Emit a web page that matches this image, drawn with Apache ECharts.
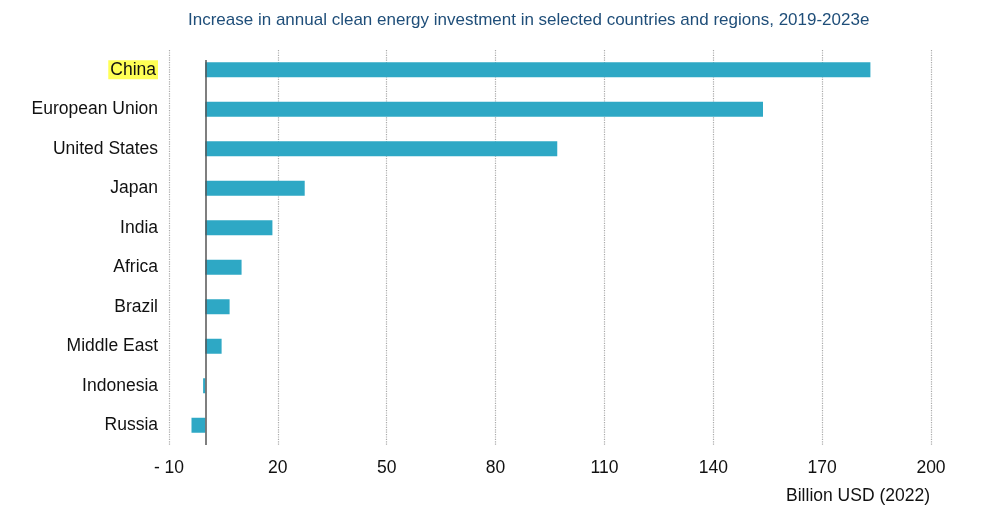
<!DOCTYPE html>
<html>
<head>
<meta charset="utf-8">
<script src="https://cdn.jsdelivr.net/npm/echarts@6/dist/echarts.min.js"></script>
<style>html,body{margin:0;padding:0;background:#fff;}#c{width:999px;height:510px;}</style>
</head>
<body>
<div id="c"></div>
<script>
const categories = ['China','European Union','United States','Japan','India','Africa','Brazil','Middle East','Indonesia','Russia'];
const values = [183.3, 153.7, 97.0, 27.4, 18.5, 10.0, 6.7, 4.5, -0.6, -3.8];
const xTicks = {min: -10, max: 200, interval: 30};
const titleText = 'Increase in annual clean energy investment in selected countries and regions, 2019-2023e';
const unitText = 'Billion USD (2022)';

const chart = echarts.init(document.getElementById('c'));
chart.setOption({
  backgroundColor: '#fff',
  textStyle: {fontFamily: 'Liberation Sans, Arial, sans-serif'},
  title: [
    {text: titleText, left: 183, top: 7,
     textStyle: {color: '#1f4e79', fontSize: 17, fontWeight: 'normal', fontFamily: 'Liberation Sans, Arial, sans-serif'}},
    {text: unitText, right: 64, top: 482,
     textStyle: {color: '#111', fontSize: 17.5, fontWeight: 'normal', fontFamily: 'Liberation Sans, Arial, sans-serif'}}
  ],
  grid: {left: 169, right: 68, top: 50, bottom: 65},
  xAxis: {
    type: 'value', min: xTicks.min, max: xTicks.max, interval: xTicks.interval,
    axisLine: {show: false}, axisTick: {show: false},
    splitLine: {show: true, lineStyle: {type: 'dotted', color: '#aaa', width: 1.2}},
    axisLabel: {color: '#111', fontSize: 17.5, margin: 14,
      formatter: v => v < 0 ? '- ' + Math.abs(v) : String(v)}
  },
  yAxis: {
    type: 'category', data: categories, inverse: true,
    axisLine: {show: false}, axisTick: {show: false}, splitLine: {show: false},
    axisLabel: {color: '#111', fontSize: 17.5, margin: 11,
      formatter: v => v === 'China' ? '{hl|' + v + '}' : v,
      rich: {hl: {backgroundColor: '#ffff55', color: '#111', fontSize: 17.5, padding: [1, 2, 0, 2]}}}
  },
  series: [{
    type: 'bar', data: values, barWidth: 15,
    itemStyle: {color: '#2ea8c5'},
    markLine: {
      silent: true, symbol: 'none', label: {show: false},
      lineStyle: {color: '#555', type: 'solid', width: 1.5},
      data: [[{coord: [0, 'China'], y: 60}, {coord: [0, 'Russia'], y: 445}]]
    },
    animation: false
  }],
  animation: false
});
</script>
</body>
</html>
